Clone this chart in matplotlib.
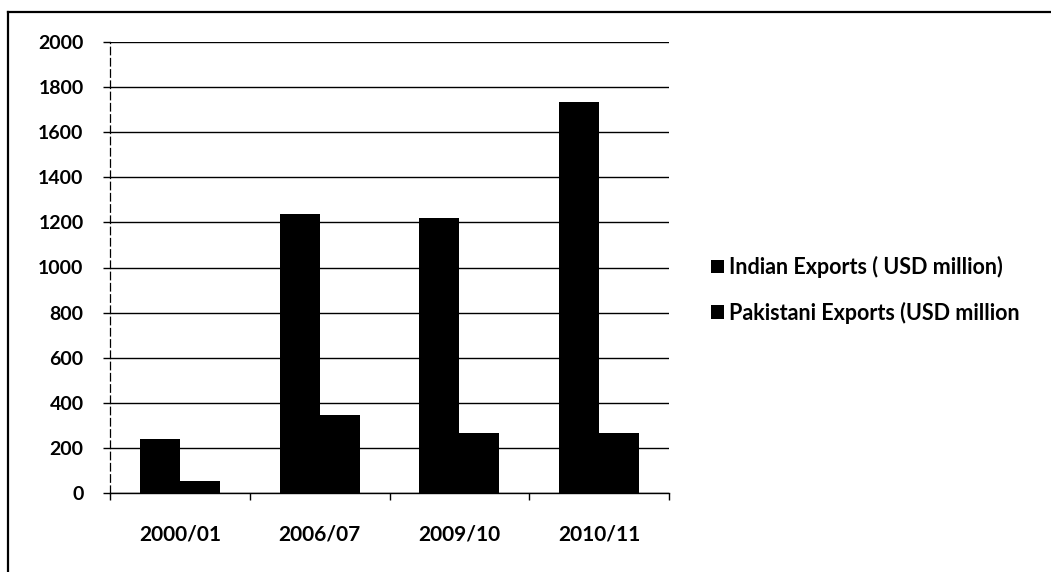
import matplotlib
matplotlib.use("Agg")
import matplotlib.pyplot as plt
import numpy as np
from matplotlib.lines import Line2D

categories = ["2000/01", "2006/07", "2009/10", "2010/11"]
indian = [238, 1237, 1220, 1733]
pakistani = [55, 345, 265, 265]
series_names = ["Indian Exports ( USD million)", "Pakistani Exports (USD million"]
yticks = [0, 200, 400, 600, 800, 1000, 1200, 1400, 1600, 1800, 2000]

plt.rcParams['font.family'] = ['Lato', 'DejaVu Sans']
plt.rcParams['font.weight'] = 'bold'

W, H = 1051, 572
fig = plt.figure(figsize=(W / 100, H / 100), dpi=100)
ax = fig.add_axes([110 / W, 1 - 493 / H, (669 - 110) / W, (493 - 42) / H])

x = np.arange(len(categories))
bw = 40 / 140
ax.bar(x - bw / 2, indian, width=bw, color="black", label=series_names[0], zorder=3)
ax.bar(x + bw / 2, pakistani, width=bw, color="black", label=series_names[1], zorder=3)

ax.set_xlim(-0.5, len(categories) - 0.5)
ax.set_ylim(0, 2000)
ax.set_yticks(yticks)
ax.set_yticklabels([str(v) for v in yticks], fontsize=14, fontweight='bold')
ax.yaxis.grid(True, color="black", linewidth=1.0, zorder=1)
ax.set_axisbelow(True)

ax.set_xticks(x)
ax.set_xticklabels(categories, fontsize=15, fontweight='bold')
ax.set_xticks(np.arange(len(categories) + 1) - 0.5, minor=True)
ax.tick_params(axis='x', which='major', length=0, pad=23)
ax.tick_params(axis='x', which='minor', length=5, width=1, color="black", direction='out')
ax.tick_params(axis='y', length=5, width=1, color="black", direction='out', pad=14)

for s in ["top", "right"]:
    ax.spines[s].set_visible(False)
ax.spines["bottom"].set_color("black")
ax.spines["bottom"].set_linewidth(1.0)
ax.spines["left"].set_color("black")
ax.spines["left"].set_linewidth(0.9)
ax.spines["left"].set_linestyle((0, (6, 3)))

leg = fig.legend(loc="center left", bbox_to_anchor=(711 / W, 1 - 290 / H),
                 frameon=False, fontsize=15.5, handlelength=0.6, handleheight=0.6,
                 handletextpad=0.25, labelspacing=1.1, borderaxespad=0, borderpad=0)
for t in leg.get_texts():
    t.set_fontweight('bold')

# chart outer border (left and top)
fig.add_artist(Line2D([8 / W, 8 / W], [0, 1 - 12 / H], transform=fig.transFigure,
                      color="black", linewidth=1.6))
fig.add_artist(Line2D([8 / W, 1.0], [1 - 12 / H, 1 - 12 / H], transform=fig.transFigure,
                      color="black", linewidth=1.6))

fig.savefig("out.png", dpi=100)
